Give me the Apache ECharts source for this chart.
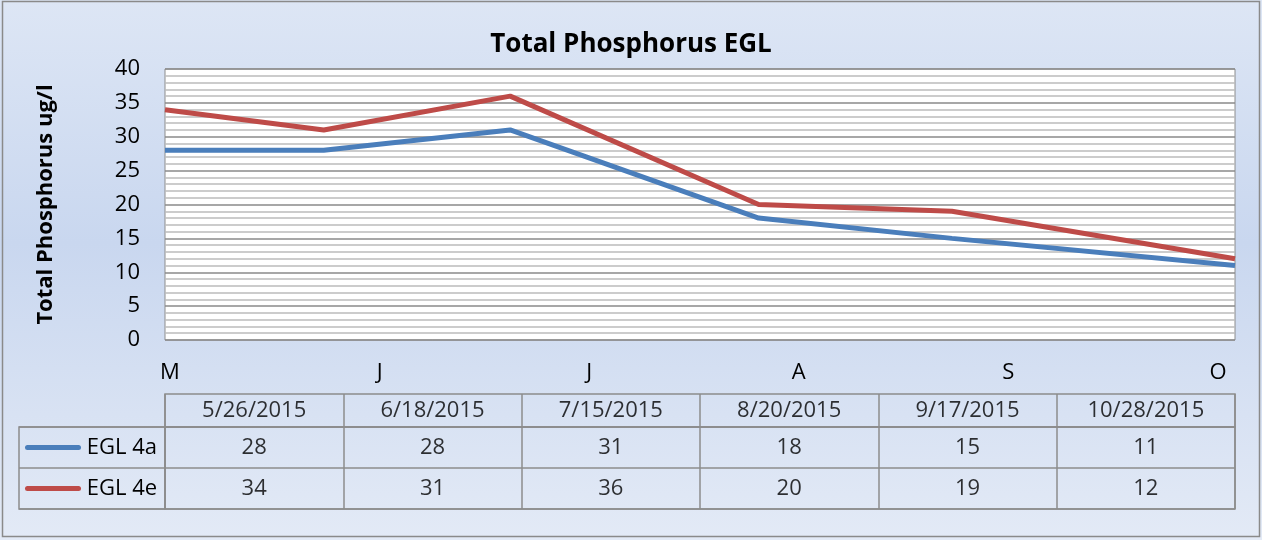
<!DOCTYPE html>
<html>
<head>
<meta charset="utf-8">
<script src="https://cdn.jsdelivr.net/npm/echarts@6/dist/echarts.min.js"></script>
<style>
html,body{margin:0;padding:0;}
#chart{width:1262px;height:540px;}
</style>
</head>
<body>
<div id="chart"></div>
<script>
// sample dates and measured values
var dates = ['5/26/2015', '6/18/2015', '7/15/2015', '8/20/2015', '9/17/2015', '10/28/2015'];
var egl4a = [28, 28, 31, 18, 15, 11];
var egl4e = [34, 31, 36, 20, 19, 12];
var monthLabels = ['M', 'J', 'J', 'A', 'S', 'O'];
var seriesNames = ['EGL 4a', 'EGL 4e'];
var colors = ['#4a7ebb', '#be4b48'];

var font = '"Open Sans", "Liberation Sans", sans-serif';
var times = dates.map(function (d) { return +new Date(d); });

function pairs(vals) {
  return vals.map(function (v, i) { return [times[i], v]; });
}

// table cells
var headCells = dates.map(function (d, i) { return { value: [i, 0], name: d }; });
var valueCells = [];
dates.forEach(function (d, i) {
  valueCells.push({ value: [i, 0], name: String(egl4a[i]) });
  valueCells.push({ value: [i, 1], name: String(egl4e[i]) });
});

var gridLine = { show: true, interval: 0, lineStyle: { color: '#8c8c8c', width: 1.5 } };
var cellLabel = {
  show: true, position: 'inside', formatter: '{b}',
  fontFamily: font, fontSize: 22, color: '#000'
};

var chartDom = document.getElementById('chart');
var myChart = echarts.init(chartDom);
var option;

option = {
  animation: false,
  backgroundColor: {
    type: 'linear', x: 0, y: 0, x2: 0, y2: 1,
    colorStops: [
      { offset: 0, color: '#dde6f5' },
      { offset: 0.45, color: '#c9d7ef' },
      { offset: 1, color: '#e3eaf6' }
    ]
  },
  title: {
    text: 'Total Phosphorus EGL',
    left: 'center',
    top: 27,
    textStyle: { fontFamily: font, fontSize: 26, fontWeight: 'bold', color: '#000' }
  },
  graphic: [{
    type: 'rect',
    shape: { x: 2.5, y: 1.5, width: 1257, height: 535 },
    style: { fill: 'none', stroke: '#8a8a8a', lineWidth: 1.5 },
    silent: true
  }],
  grid: [
    { // plot
      left: 165, right: 27, top: 69, height: 271,
      show: true, backgroundColor: '#fff', borderColor: '#8c8c8c', borderWidth: 1
    },
    { // table header (dates)
      left: 165, right: 27, top: 394, height: 33,
      show: true, borderColor: '#8c8c8c', borderWidth: 1.5
    },
    { // table values
      left: 165, right: 27, top: 427, height: 82,
      show: true, borderColor: '#8c8c8c', borderWidth: 1.5
    },
    { // row labels
      left: 19, width: 146, top: 427, height: 82,
      show: true, borderColor: '#8c8c8c', borderWidth: 1.5
    },
    { // month labels
      left: 170, right: 44, top: 69, height: 271, show: false
    }
  ],
  xAxis: [
    {
      type: 'time', gridIndex: 0,
      min: times[0], max: times[times.length - 1],
      axisLine: { show: false }, axisTick: { show: false },
      axisLabel: { show: false }, splitLine: { show: false }
    },
    {
      type: 'category', gridIndex: 4, boundaryGap: false,
      data: monthLabels, position: 'bottom',
      axisLine: { show: false }, axisTick: { show: false },
      axisLabel: { margin: 22, fontFamily: font, fontSize: 22, color: '#000', interval: 0 }
    },
    {
      type: 'category', gridIndex: 1, data: dates,
      axisLine: { show: false }, axisTick: { show: false },
      axisLabel: { show: false }, splitLine: gridLine
    },
    {
      type: 'category', gridIndex: 2, data: dates,
      axisLine: { show: false }, axisTick: { show: false },
      axisLabel: { show: false }, splitLine: gridLine
    },
    {
      type: 'value', gridIndex: 3, min: 0, max: 1, show: false
    }
  ],
  yAxis: [
    {
      type: 'value', gridIndex: 0, min: 0, max: 40, interval: 5,
      name: 'Total Phosphorus ug/l', nameLocation: 'middle', nameGap: 108,
      nameTextStyle: { fontFamily: font, fontSize: 22, fontWeight: 'bold', color: '#000' },
      axisLine: { show: false }, axisTick: { show: false },
      axisLabel: { margin: 25, fontFamily: font, fontSize: 22, color: '#000' },
      splitLine: { lineStyle: { color: '#8a8a8a', width: 1.5 } },
      minorTick: { show: false, splitNumber: 5 },
      minorSplitLine: { show: true, lineStyle: { color: '#bcbcbc', width: 1.5 } }
    },
    {
      type: 'category', gridIndex: 1, data: [''],
      axisLine: { show: false }, axisTick: { show: false },
      axisLabel: { show: false }, splitLine: { show: false }
    },
    {
      type: 'category', gridIndex: 2, inverse: true, data: seriesNames,
      axisLine: { show: false }, axisTick: { show: false },
      axisLabel: { show: false }, splitLine: gridLine
    },
    {
      type: 'category', gridIndex: 3, inverse: true,
      data: seriesNames,
      axisLine: { show: false }, axisTick: { show: false },
      axisLabel: {
        inside: true, margin: 6, fontFamily: font, fontSize: 22, color: '#000',
        formatter: function (v, i) { return '{m' + i + '|} ' + v; },
        rich: {
          m0: { width: 56, height: 5, backgroundColor: colors[0], borderRadius: 3 },
          m1: { width: 56, height: 5, backgroundColor: colors[1], borderRadius: 3 }
        }
      },
      splitLine: gridLine
    },
    {
      type: 'value', gridIndex: 4, show: false
    }
  ],
  series: [
    {
      name: seriesNames[0], type: 'line', xAxisIndex: 0, yAxisIndex: 0,
      data: pairs(egl4a), symbol: 'none',
      lineStyle: { color: colors[0], width: 5 }
    },
    {
      name: seriesNames[1], type: 'line', xAxisIndex: 0, yAxisIndex: 0,
      data: pairs(egl4e), symbol: 'none',
      lineStyle: { color: colors[1], width: 5 }
    },
    {
      type: 'scatter', xAxisIndex: 2, yAxisIndex: 1,
      data: headCells, symbolSize: 1, itemStyle: { color: 'transparent' },
      label: cellLabel
    },
    {
      type: 'scatter', xAxisIndex: 3, yAxisIndex: 2,
      data: valueCells, symbolSize: 1, itemStyle: { color: 'transparent' },
      label: cellLabel
    }
  ]
};

option && myChart.setOption(option);
</script>
</body>
</html>
